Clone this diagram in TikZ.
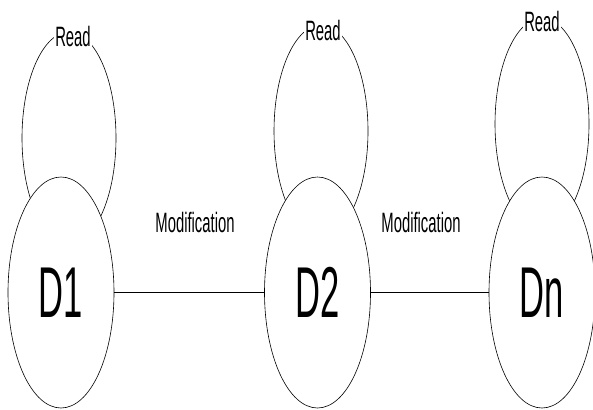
\documentclass[tikz,border=0pt]{standalone}
\usepackage{fontspec}
\usepackage{tikz}
\usetikzlibrary{shapes.geometric}
\newfontfamily\lblfont[FakeStretch=0.53]{Liberation Sans}
\newfontfamily\docfont[FakeStretch=0.48]{Liberation Sans}

\begin{document}
\begin{tikzpicture}[x=1pt,y=-1pt,
		loop/.style={ellipse, draw, line width=0.6pt, inner sep=0, minimum width=94pt, minimum height=212pt},
		doc/.style={ellipse, draw, fill=white, line width=0.6pt, inner sep=0, minimum width=106pt, minimum height=231pt, font=\docfont\fontsize{72}{72}\selectfont},
		lbl/.style={fill=white, inner sep=1pt, font=\lblfont\fontsize{28}{28}\selectfont}]
	\useasboundingbox (0,0) rectangle (593,409);
	%% ========================================================
	% read loops
	\node[loop] (r1) at (69,138) {};
	\node[loop] (r2) at (321,131) {};
	\node[loop] (r3) at (542,124) {};
	\node[lbl] (read1) at (73,36) {Read};
	\node[lbl] (read2) at (323,30) {Read};
	\node[lbl] (read3) at (542,21) {Read};

	% documents
	\node[doc] (d1) at (61,292.5) {D1};
	\node[doc] (d2) at (317.5,292.5) {D2};
	\node[doc] (dn) at (542,292.5) {Dn};

	% modifications
	\draw[line width=0.8pt] (d1) -- (d2);
	\draw[line width=0.8pt] (d2) -- (dn);
	\node[lbl] (mod1) at (195,222) {Modification};
	\node[lbl] (mod2) at (421,222) {Modification};
	%% ========================================================
\end{tikzpicture}
\end{document}
